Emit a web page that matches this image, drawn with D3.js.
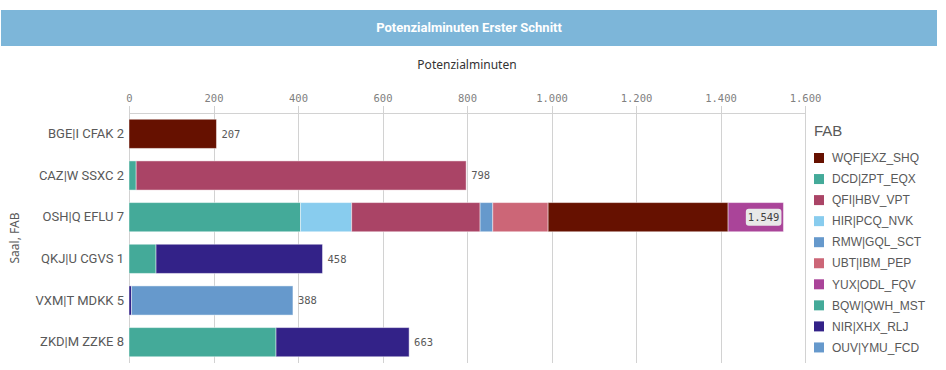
<!DOCTYPE html>
<html>
<head>
<meta charset="utf-8">
<script src="https://cdn.jsdelivr.net/npm/d3@7"></script>
<style>
  body { margin: 0; background: #fff; }
  svg { display: block; }
</style>
</head>
<body>
<div class="chart"></div>
<script>
// rows (Saal)
const categories = ["BGE|I CFAK 2", "CAZ|W SSXC 2", "OSH|Q EFLU 7", "QKJ|U CGVS 1", "VXM|T MDKK 5", "ZKD|M ZZKE 8"];

// series (FAB), legend order
const fabKeys = ["WQF|EXZ_SHQ", "DCD|ZPT_EQX", "QFI|HBV_VPT", "HIR|PCQ_NVK", "RMW|GQL_SCT", "UBT|IBM_PEP", "YUX|ODL_FQV", "BQW|QWH_MST", "NIR|XHX_RLJ", "OUV|YMU_FCD"];
const fabColors = ["#661100", "#44aa99", "#aa4466", "#88ccee", "#6699cc", "#cc6677", "#aa4499", "#44aa99", "#332288", "#6699cc"];

// minutes per row, one array per FAB
const wqf = [207, 0, 426, 0, 0, 0];
const dcd = [0, 17, 406, 0, 0, 0];
const qfi = [0, 781, 304, 0, 0, 0];
const hir = [0, 0, 121, 0, 0, 0];
const rmw = [0, 0, 30, 0, 0, 0];
const ubt = [0, 0, 131, 0, 0, 0];
const yux = [0, 0, 131, 0, 0, 0];
const bqw = [0, 0, 0, 64, 0, 348];
const nir = [0, 0, 0, 394, 6, 315];
const ouv = [0, 0, 0, 0, 382, 0];
const seriesValues = [wqf, dcd, qfi, hir, rmw, ubt, yux, bqw, nir, ouv];

const xTicks = [0, 200, 400, 600, 800, 1000, 1200, 1400, 1600];

const width = 946;
const height = 370;
const margin = {top: 113, right: 141, bottom: 7, left: 129};

const de = d3.formatLocale({decimal: ",", thousands: ".", grouping: [3], currency: ["", " €"]});
const fmt = de.format(",");

// table for d3.stack
const table = categories.map((c, i) => {
    const row = {cat: c};
    fabKeys.forEach((k, j) => row[k] = seriesValues[j][i]);
    row.total = d3.sum(seriesValues, s => s[i]);
    return row;
});
const color = d3.scaleOrdinal().domain(fabKeys).range(fabColors);

// segments stack in alphabetical order of FAB
const stackKeys = fabKeys.slice().sort(d3.ascending);
const stacked = d3.stack().keys(stackKeys)(table);

const svg = d3.select(".chart")
    .append("svg")
    .attr("width", width)
    .attr("height", height);

// title band
svg.append("rect")
    .attr("x", 1).attr("y", 10)
    .attr("width", 936).attr("height", 36)
    .attr("fill", "#7db6d9");
svg.append("text")
    .attr("x", 469).attr("y", 32)
    .attr("text-anchor", "middle")
    .attr("fill", "#fff")
    .style("font-family", "Roboto, sans-serif")
    .style("font-weight", "bold")
    .style("font-size", "13px")
    .text("Potenzialminuten Erster Schnitt");

const x = d3.scaleLinear()
    .domain([0, 1600])
    .range([margin.left, width - margin.right]);

const y = d3.scaleBand()
    .domain(categories)
    .range([margin.top, height - margin.bottom])
    .paddingInner(0.3)
    .paddingOuter(0.15);

// axis title
svg.append("text")
    .attr("x", (x(0) + x(1600)) / 2).attr("y", 69)
    .attr("text-anchor", "middle")
    .attr("fill", "#333")
    .style("font-family", "'Noto Sans', sans-serif")
    .style("font-size", "12px")
    .text("Potenzialminuten");

// gridlines
svg.append("g")
    .selectAll("line")
    .data(xTicks)
    .enter()
    .append("line")
    .attr("x1", d => Math.round(x(d)) + 0.5).attr("x2", d => Math.round(x(d)) + 0.5)
    .attr("y1", 106).attr("y2", height - margin.bottom)
    .attr("stroke", "#d2d2d2");

// top axis
const xAxis = svg.append("g")
    .attr("transform", `translate(0, ${margin.top})`)
    .call(d3.axisTop(x).tickValues(xTicks).tickFormat(fmt).tickSize(0).tickPadding(11));
xAxis.select(".domain").attr("stroke", "#d2d2d2").attr("d", `M${x(0)},0.5H${x(1600) + 1}`);
xAxis.selectAll("text")
    .attr("fill", "#808080")
    .style("font-family", "'DejaVu Sans Mono', monospace")
    .style("font-size", "10.5px");

// category axis
const yAxis = svg.append("g")
    .attr("transform", `translate(${margin.left}, 0)`)
    .call(d3.axisLeft(y).tickSize(0).tickPadding(5));
yAxis.select(".domain").remove();
yAxis.selectAll("text")
    .attr("fill", "#595959")
    .style("font-family", "'Liberation Sans Narrow', Roboto, sans-serif")
    .style("font-size", "13px");

svg.append("text")
    .attr("transform", `translate(19, ${(margin.top + height - margin.bottom) / 2}) rotate(-90)`)
    .attr("text-anchor", "middle")
    .attr("fill", "#595959")
    .style("font-family", "'Noto Sans', sans-serif")
    .style("font-size", "12px")
    .text("Saal, FAB");

// bars
svg.append("g")
    .selectAll("g")
    .data(stacked)
    .enter()
    .append("g")
    .attr("fill", d => color(d.key))
    .selectAll("rect")
    .data(d => d.filter(s => s[1] > s[0]))
    .enter()
    .append("rect")
    .attr("x", d => x(d[0]))
    .attr("y", d => y(d.data.cat))
    .attr("width", d => x(d[1]) - x(d[0]))
    .attr("height", y.bandwidth())
    .attr("stroke", "rgba(255,255,255,0.45)")
    .attr("stroke-width", 1);

// total labels
const labels = svg.append("g")
    .selectAll("g")
    .data(table)
    .enter()
    .append("g");

labels.each(function(d) {
    const g = d3.select(this);
    const cy = y(d.cat) + y.bandwidth() / 2;
    const t = g.append("text")
        .attr("y", cy)
        .attr("dy", "0.35em")
        .attr("fill", "#595959")
        .style("font-family", "'DejaVu Sans Mono', monospace")
        .style("font-size", "10.5px")
        .text(fmt(d.total));
    const w = t.node().getComputedTextLength();
    if (x(d.total) + 5 + w > x(1600)) {
        // no room outside: put inside the bar end on a grey box
        const bx = x(d.total) - w - 6;
        g.insert("rect", "text")
            .attr("x", bx).attr("y", cy - 8.5)
            .attr("width", w + 4).attr("height", 17)
            .attr("rx", 3)
            .attr("fill", "#e8e8e8");
        t.attr("x", bx + 2).attr("fill", "#404040");
    } else {
        t.attr("x", x(d.total) + 5);
    }
});

// legend
const legend = svg.append("g")
    .attr("transform", "translate(814, 0)");
legend.append("text")
    .attr("x", 0).attr("y", 136)
    .attr("fill", "#595959")
    .style("font-family", "'Liberation Sans', sans-serif")
    .style("font-size", "15px")
    .text("FAB");

const item = legend.selectAll(".item")
    .data(fabKeys)
    .enter()
    .append("g")
    .attr("class", "item")
    .attr("transform", (d, i) => `translate(0, ${158 + i * 21.05})`);
item.append("rect")
    .attr("x", 0).attr("y", -5)
    .attr("width", 10).attr("height", 10)
    .attr("fill", d => color(d));
item.append("text")
    .attr("x", 18).attr("dy", "0.35em")
    .attr("fill", "#595959")
    .style("font-family", "'Liberation Sans', sans-serif")
    .style("font-size", "12px")
    .text(d => d);
</script>
</body>
</html>
